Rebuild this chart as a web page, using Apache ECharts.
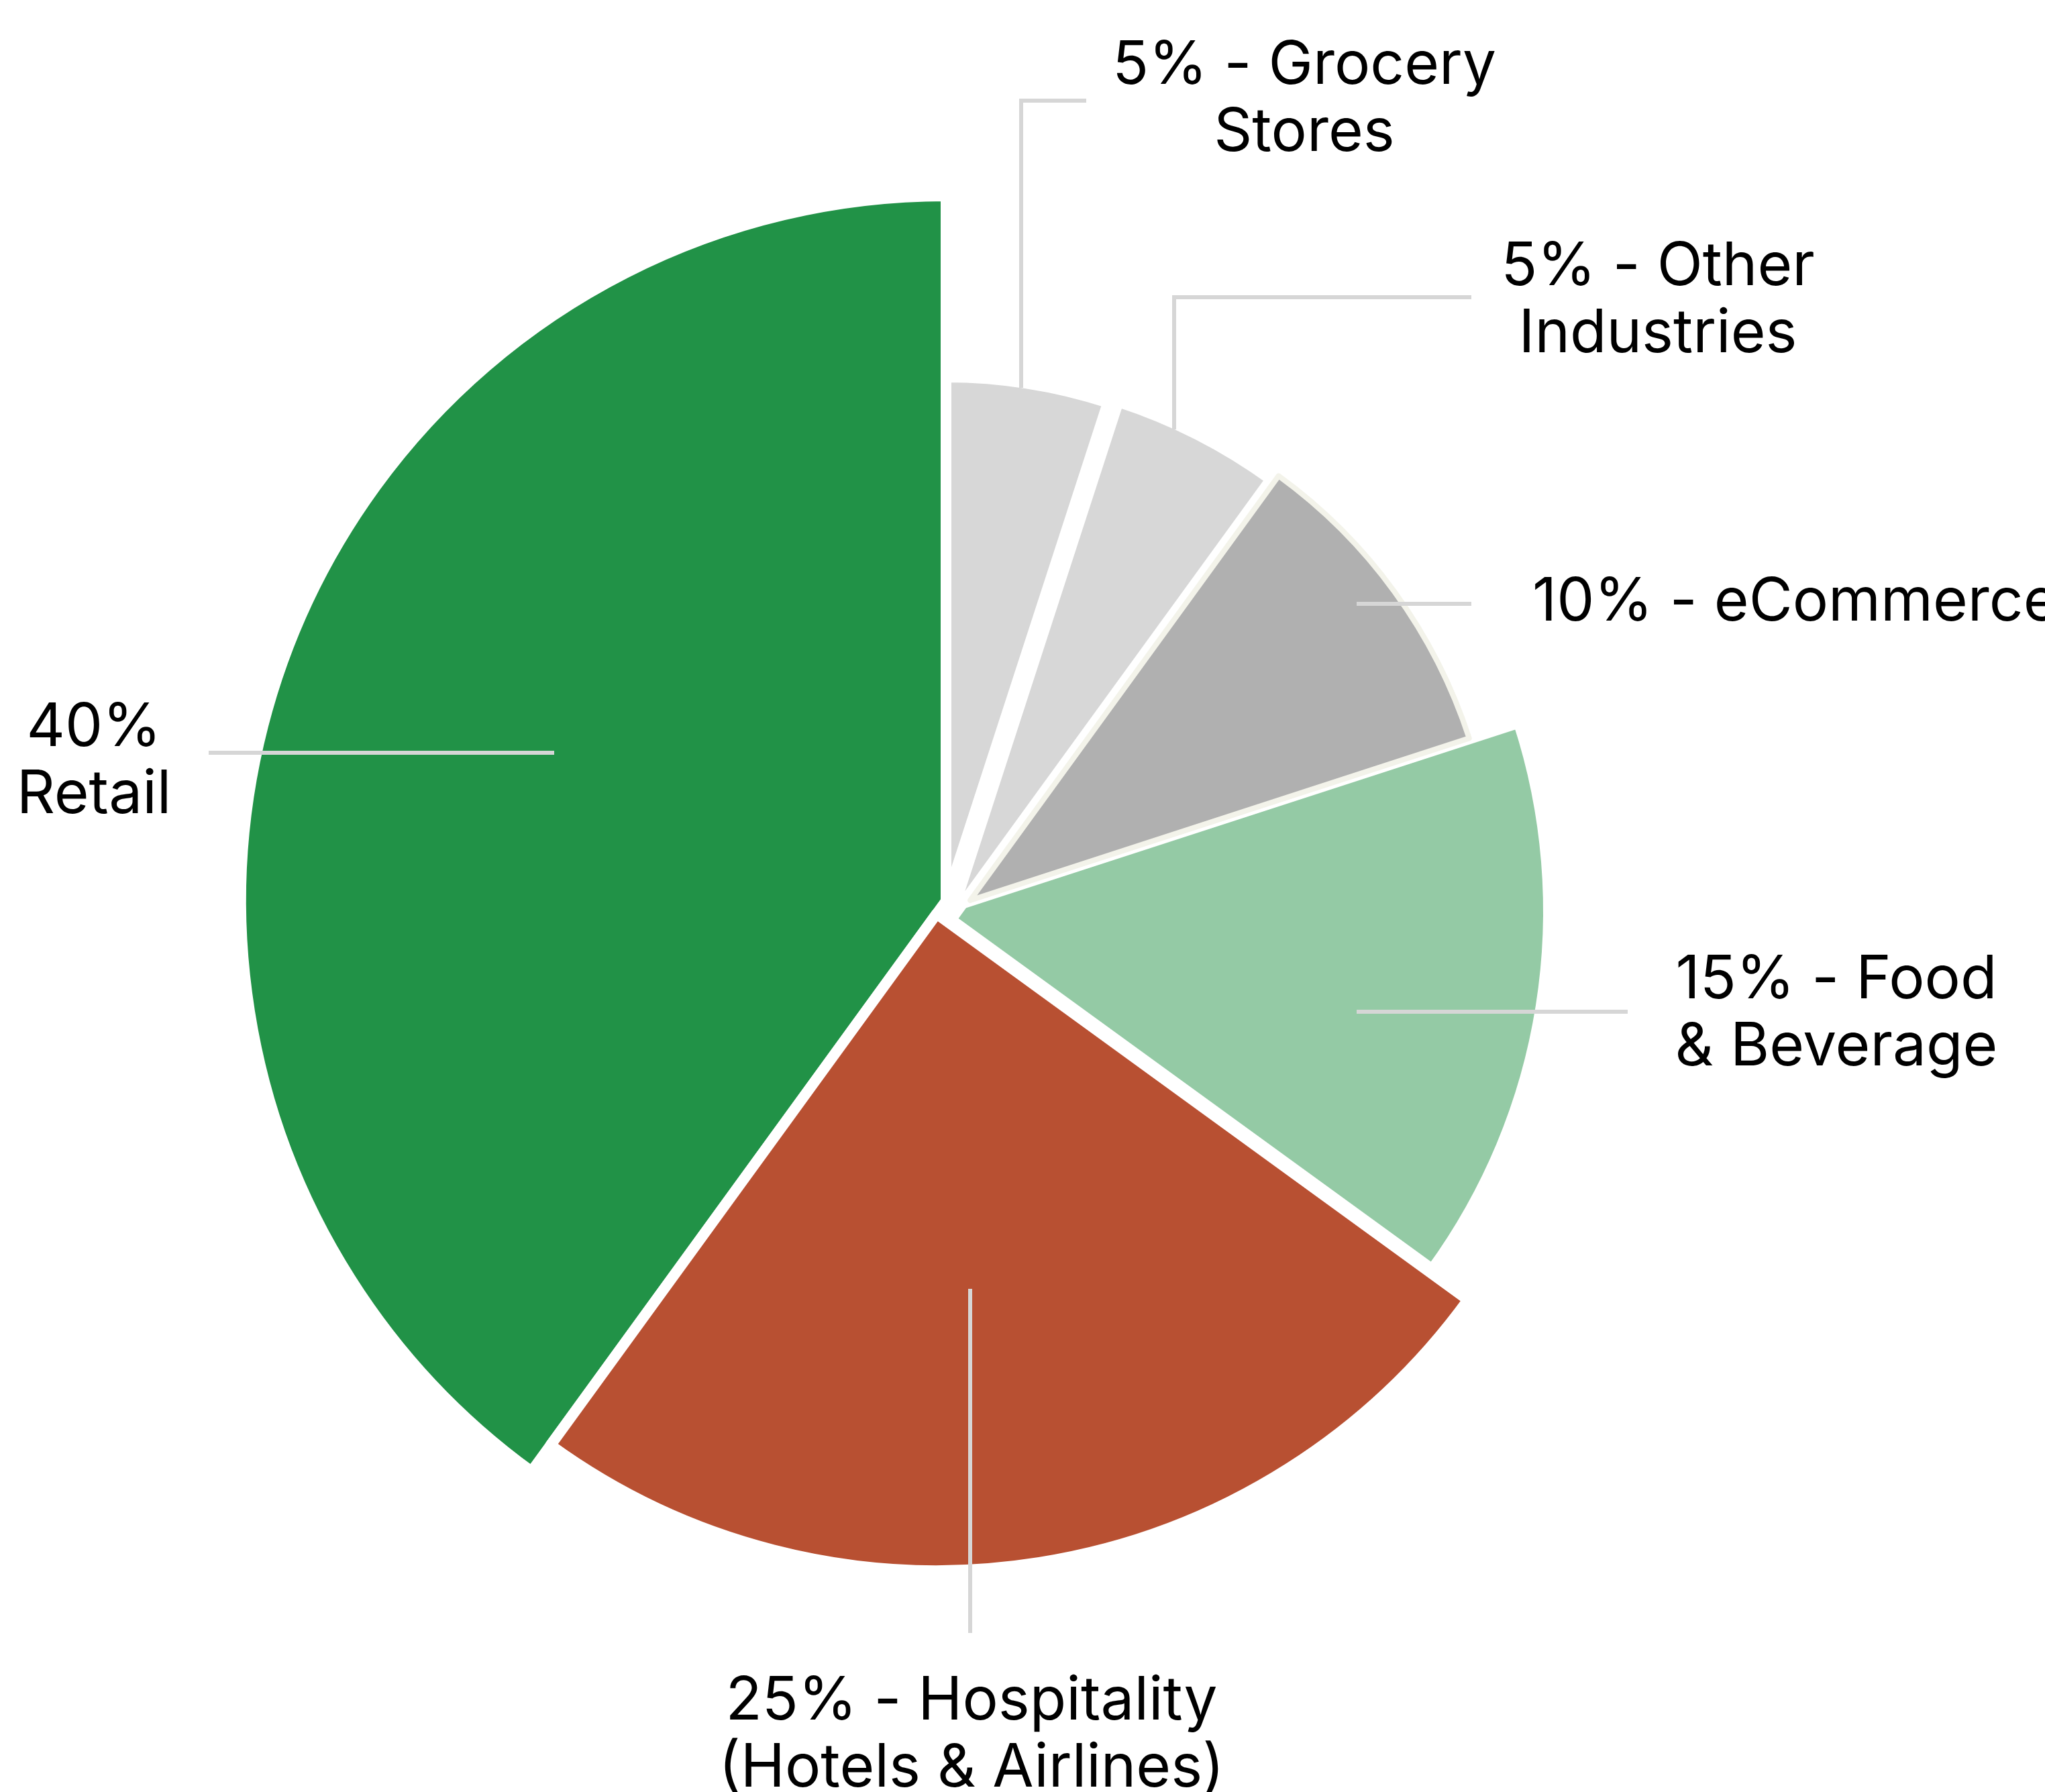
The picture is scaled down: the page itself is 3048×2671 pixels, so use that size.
<!DOCTYPE html>
<html><head><meta charset="utf-8">
<script src="https://cdn.jsdelivr.net/npm/echarts@6/dist/echarts.min.js"></script>
<style>html,body{margin:0;padding:0;background:#fff}#c{width:3048px;height:2671px}</style>
</head><body><div id="c"></div>
<script>
// ---- data ----
const categories = ['Grocery Stores', 'Other Industries', 'eCommerce', 'Food & Beverage', 'Hospitality (Hotels & Airlines)', 'Retail'];
const values = [5, 5, 10, 15, 25, 40];
const labelTemplates = ['{c}% - Grocery\nStores', '{c}% - Other\nIndustries', '{c}% - eCommerce', '{c}% - Food\n& Beverage', '{c}% - Hospitality\n(Hotels & Airlines)', '{c}%\nRetail'];

// ---- styles / layout ----
const colors = ['#d7d7d7', '#d7d7d7', '#b0b0b0', '#94caa5', '#b85032', '#219247'];
const sliceLayout = [
  {center: [1410, 1343], radius: 781, border: '#ffffff', bw: 16},
  {center: [1415, 1374], radius: 815, border: '#ffffff', bw: 16},
  {center: [1446, 1342], radius: 782, border: '#f3f3ea', bw: 8},
  {center: [1400, 1358], radius: 908, border: '#ffffff', bw: 16},
  {center: [1396, 1362], radius: 979, border: '#ffffff', bw: 16},
  {center: [1410, 1343], radius: 1051, border: '#ffffff', bw: 16}
];
const labelLayouts = [
  {x: 1944, y: 148, align: 'center', line: [[1522, 578], [1522, 150], [1619, 150]]},
  {x: 2471, y: 448, align: 'center', line: [[1750, 640], [1750, 443], [2193, 443]]},
  {x: 2284, y: 898, align: 'left', line: [[2022, 900], [2100, 900], [2193, 900]]},
  {x: 2737, y: 1511, align: 'center', line: [[2022, 1508], [2200, 1508], [2426, 1508]]},
  {x: 1448, y: 2586, align: 'center', line: [[1446, 1921], [1446, 2200], [1446, 2434]]},
  {x: 140, y: 1135, align: 'center', line: [[826, 1122], [500, 1122], [311, 1122]]}
];
const drawOrder = [5, 4, 3, 0, 1, 2];

const chart = echarts.init(document.getElementById('c'), null, {renderer: 'canvas'});

// one pie series per visible slice (own radius / centre), other slices transparent
const series = drawOrder.map(function (i, k) {
  const S = sliceLayout[i];
  return {
    type: 'pie',
    z: 2 + k,
    center: S.center,
    radius: [0, S.radius],
    startAngle: 90,
    clockwise: true,
    silent: true,
    animation: false,
    label: {show: false},
    labelLine: {show: false},
    emphasis: {disabled: true},
    data: values.map(function (v, j) {
      return {
        name: categories[j],
        value: v,
        itemStyle: j === i
          ? {color: colors[j], borderColor: S.border, borderWidth: S.bw, borderJoin: 'round'}
          : {color: 'rgba(0,0,0,0)', borderWidth: 0}
      };
    })
  };
});

// overlay series carrying labels and leader lines above every slice
series.push({
  type: 'pie',
  z: 20,
  center: sliceLayout[5].center,
  radius: [0, sliceLayout[5].radius],
  startAngle: 90,
  clockwise: true,
  silent: true,
  animation: false,
  avoidLabelOverlap: false,
  emphasis: {disabled: true},
  itemStyle: {color: 'rgba(0,0,0,0)', borderWidth: 0},
  data: values.map(function (v, j) { return {name: categories[j], value: v}; }),
  label: {
    show: true,
    position: 'outside',
    formatter: function (p) { return labelTemplates[p.dataIndex].replace('{c}', p.value); },
    fontFamily: 'Inter',
    fontSize: 89,
    lineHeight: 100,
    color: '#000',
    align: 'center'
  },
  labelLine: {show: true, showAbove: true, smooth: false, lineStyle: {color: '#d6d6d6', width: 6}},
  labelLayout: function (p) {
    const L = labelLayouts[p.dataIndex];
    return {x: L.x, y: L.y, align: L.align, verticalAlign: 'middle', labelLinePoints: L.line};
  }
});

chart.setOption({backgroundColor: '#ffffff', animation: false, series: series});
</script>
</body></html>
